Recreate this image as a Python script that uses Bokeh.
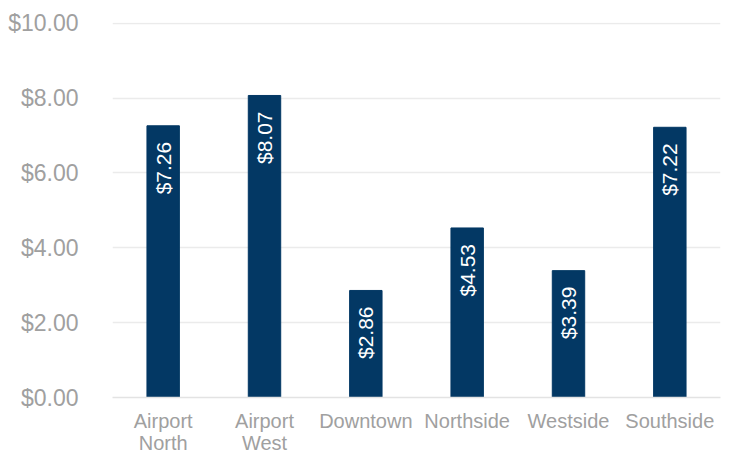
import math
from bokeh.plotting import figure
from bokeh.models import ColumnDataSource, NumeralTickFormatter, FactorRange, Range1d
from bokeh.core.properties import value
from bokeh.embed import file_html
from bokeh.resources import INLINE

categories = ["Airport\nNorth", "Airport\nWest", "Downtown", "Northside", "Westside", "Southside"]
values = [7.26, 8.07, 2.86, 4.53, 3.39, 7.22]
labels = ["$%.2f" % v for v in values]

src = ColumnDataSource(dict(cat=categories, val=values, lab=labels))

p = figure(x_range=FactorRange(*categories, range_padding=0), y_range=Range1d(0, 10.02),
           width=723, height=456, output_backend="svg", toolbar_location=None,
           min_border_left=112, min_border_right=3, min_border_top=22, min_border_bottom=59)
p.outline_line_color = None
p.background_fill_color = "white"

p.vbar(x="cat", top="val", width=0.32, source=src, color="#033864")

p.text(x="cat", y="val", text="lab", source=src, angle=math.pi / 2,
       text_align="right", text_baseline="middle", y_offset=16,
       text_color="white", text_font=value("Liberation Sans"), text_font_size="21px")

font = "Liberation Sans"
p.yaxis.formatter = NumeralTickFormatter(format="$0.00")
p.yaxis.ticker = [0, 2, 4, 6, 8, 10]
p.yaxis.axis_line_color = None
p.yaxis.major_tick_line_color = None
p.yaxis.minor_tick_line_color = None
p.yaxis.major_label_text_font = font
p.yaxis.major_label_text_font_size = "23px"
p.yaxis.major_label_text_color = "#A0A0A0"
p.yaxis.major_label_standoff = 28

p.xaxis.axis_line_color = "#E3E3E3"
p.xaxis.axis_line_width = 1.5
p.xaxis.major_tick_line_color = None
p.xaxis.minor_tick_line_color = None
p.xaxis.major_label_text_font = font
p.xaxis.major_label_text_font_size = "20px"
p.xaxis.major_label_text_color = "#A0A0A0"
p.xaxis.major_label_standoff = 6
p.xaxis.major_label_text_line_height = 1.0

p.xgrid.grid_line_color = None
p.ygrid.grid_line_color = "#EBEBEB"
p.ygrid.grid_line_width = 1.5

open("out.html", "w").write(file_html(p, INLINE))
